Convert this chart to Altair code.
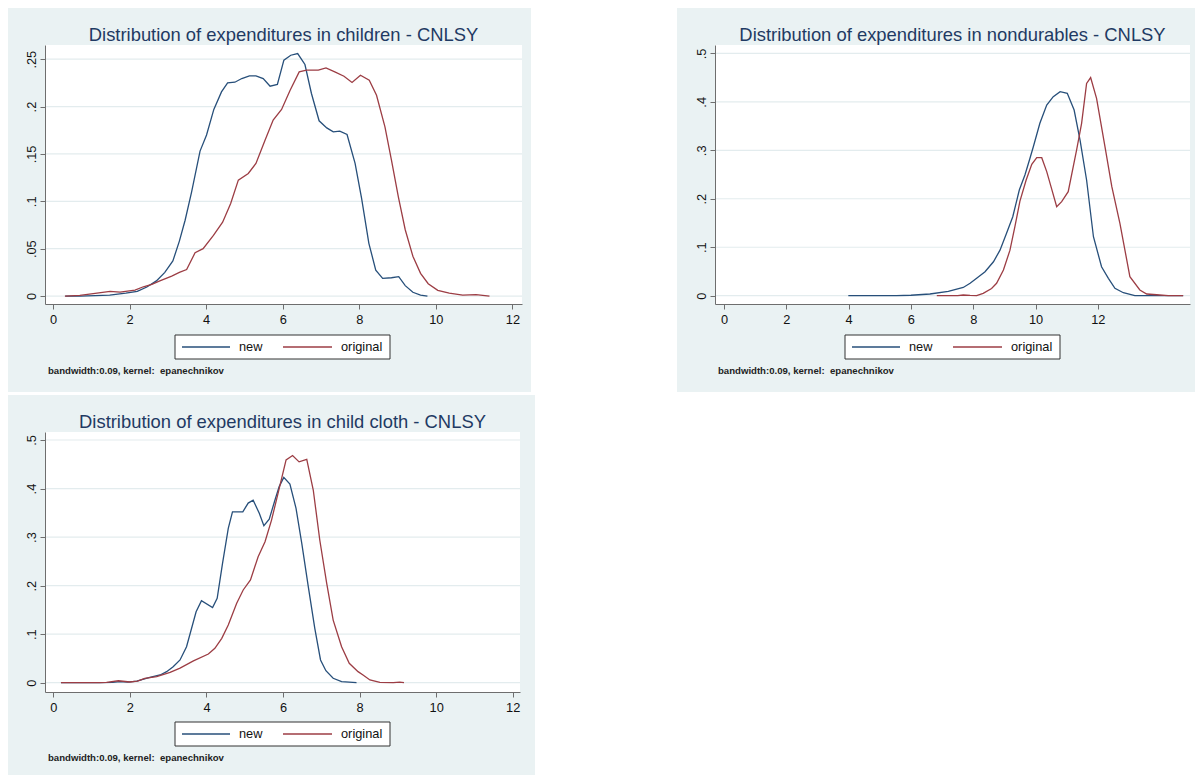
import altair as alt
import pandas as pd

# ---- Kernel density estimates (x = log expenditure, y = density) ----
# Children
children_new_x = [0.32, 0.70, 1.10, 1.48, 1.90, 2.20, 2.45, 2.70, 2.92, 3.13, 3.30, 3.45, 3.62, 3.84, 4.01,
                  4.20, 4.40, 4.56, 4.75, 4.93, 5.13, 5.30, 5.49, 5.67, 5.86, 6.03, 6.21, 6.39, 6.58, 6.75,
                  6.95, 7.15, 7.32, 7.49, 7.68, 7.89, 8.06, 8.25, 8.43, 8.61, 8.84, 9.03, 9.20, 9.40, 9.60, 9.78]
children_new_y = [0.0, 0.0, 0.0005, 0.001, 0.003, 0.005, 0.0095, 0.016, 0.025, 0.037, 0.058, 0.080, 0.110, 0.153, 0.170,
                  0.197, 0.2155, 0.225, 0.2257, 0.2296, 0.2324, 0.2324, 0.2296, 0.2215, 0.2233, 0.249, 0.2542, 0.256, 0.2444, 0.2138,
                  0.185, 0.1775, 0.1733, 0.174, 0.1705, 0.140, 0.103, 0.0556, 0.0274, 0.0187, 0.0193, 0.0204, 0.011, 0.004, 0.001, 0.0]
children_orig_x = [0.31, 0.70, 1.10, 1.49, 1.75, 2.14, 2.36, 2.58, 2.79, 3.10, 3.30, 3.49, 3.71, 3.92, 4.19,
                   4.43, 4.64, 4.84, 5.10, 5.30, 5.54, 5.75, 5.97, 6.19, 6.43, 6.62, 6.93, 7.13, 7.36, 7.60,
                   7.81, 8.03, 8.26, 8.45, 8.67, 8.84, 9.02, 9.20, 9.40, 9.60, 9.80, 10.05, 10.35, 10.70, 11.05, 11.40]
children_orig_y = [0.0, 0.0007, 0.0028, 0.005, 0.0042, 0.0063, 0.0098, 0.0123, 0.016, 0.021, 0.025, 0.028, 0.0457, 0.050, 0.064,
                   0.078, 0.0977, 0.1224, 0.1294, 0.140, 0.1646, 0.1857, 0.197, 0.217, 0.2366, 0.2384, 0.2384, 0.2408, 0.2366, 0.232,
                   0.2254, 0.2331, 0.2278, 0.212, 0.1786, 0.1435, 0.1047, 0.070, 0.042, 0.024, 0.013, 0.006, 0.003, 0.001, 0.0015, 0.0]

# Nondurables
nondur_new_x = [3.99, 4.50, 5.00, 5.54, 6.00, 6.61, 7.20, 7.68, 7.90, 8.11, 8.38, 8.65, 8.86, 9.07, 9.27, 9.48, 9.66, 9.82,
                9.93, 10.14, 10.36, 10.57, 10.79, 11.02, 11.24, 11.43, 11.64, 11.86, 12.12, 12.34, 12.55, 12.82, 13.19, 13.60, 14.20, 14.74]
nondur_new_y = [0.0, 0.0, 0.0, 0.0, 0.001, 0.0035, 0.009, 0.017, 0.0256, 0.036, 0.0495, 0.070, 0.094, 0.1287, 0.163, 0.218, 0.249, 0.283,
                0.3074, 0.3557, 0.3934, 0.4106, 0.4209, 0.4176, 0.383, 0.321, 0.2387, 0.1217, 0.0598, 0.0359, 0.0153, 0.0062, 0.0, 0.0, 0.0, 0.0]
nondur_orig_x = [6.83, 7.20, 7.50, 7.68, 7.90, 8.11, 8.32, 8.59, 8.75, 8.97, 9.18, 9.34, 9.50, 9.70, 9.88, 10.04, 10.20, 10.36,
                 10.52, 10.68, 10.84, 11.05, 11.32, 11.48, 11.64, 11.77, 11.96, 12.23, 12.45, 12.71, 13.03, 13.35, 13.57, 13.89, 14.26, 14.74]
nondur_orig_y = [0.0, 0.0, 0.0, 0.0015, 0.0005, 0.0, 0.005, 0.015, 0.0256, 0.053, 0.094, 0.143, 0.195, 0.2387, 0.271, 0.2847, 0.2847, 0.256,
                 0.22, 0.1836, 0.194, 0.2146, 0.3006, 0.3557, 0.438, 0.450, 0.407, 0.3074, 0.2249, 0.1494, 0.0392, 0.0118, 0.0035, 0.002, 0.0, 0.0]

# Child cloth
cloth_new_x = [0.20, 0.80, 1.20, 1.55, 1.74, 1.95, 2.18, 2.52, 2.79, 2.96, 3.13, 3.31, 3.48, 3.73, 3.87, 4.16, 4.28, 4.42, 4.57, 4.68,
               4.95, 5.09, 5.22, 5.38, 5.50, 5.64, 5.79, 5.90, 6.02, 6.18, 6.34, 6.49, 6.66, 6.83, 6.98, 7.12, 7.31, 7.53, 7.92]
cloth_new_y = [0.0, 0.0, 0.0, 0.0005, 0.002, 0.001, 0.003, 0.011, 0.0159, 0.0227, 0.033, 0.0468, 0.074, 0.146, 0.169, 0.155, 0.174, 0.246, 0.318, 0.352,
               0.352, 0.370, 0.376, 0.349, 0.3235, 0.3367, 0.3765, 0.404, 0.423, 0.409, 0.359, 0.287, 0.198, 0.112, 0.0468, 0.0247, 0.009, 0.002, 0.0]
cloth_orig_x = [0.20, 0.80, 1.20, 1.39, 1.70, 2.00, 2.20, 2.39, 2.70, 3.05, 3.31, 3.66, 4.05, 4.22, 4.40, 4.57, 4.79, 4.96, 5.15, 5.35,
                5.53, 5.70, 5.87, 6.08, 6.25, 6.42, 6.62, 6.79, 6.96, 7.14, 7.31, 7.53, 7.73, 7.96, 8.09, 8.27, 8.53, 8.88, 9.05, 9.16]
cloth_orig_y = [0.0, 0.0, 0.0, 0.0005, 0.004, 0.0014, 0.003, 0.009, 0.0124, 0.0214, 0.030, 0.045, 0.059, 0.0708, 0.0914, 0.119, 0.1636, 0.191, 0.2116, 0.2596,
                0.2905, 0.335, 0.390, 0.459, 0.468, 0.455, 0.460, 0.397, 0.294, 0.205, 0.129, 0.074, 0.040, 0.0227, 0.0159, 0.0056, 0.0008, 0.0, 0.001, 0.0]

series_names = ["new", "original"]
x_ticks = [0, 2, 4, 6, 8, 10, 12]
y_ticks_children = [0, 0.05, 0.1, 0.15, 0.2, 0.25]
y_ticks_half = [0, 0.1, 0.2, 0.3, 0.4, 0.5]
note_text = "bandwidth:0.09, kernel:\u00a0 epanechnikov"

# ---- Styling ----
NAVY = "#274F7A"
MAROON = "#9C3D44"
SERIES_COLORS = [NAVY, MAROON]
PANEL_BG = "#EAF2F3"
GRID = "#E3ECEE"
TITLE_COLOR = "#1F3A63"
AXIS_COLOR = "#6E6E6E"
FONT = "Liberation Sans"
ONE = pd.DataFrame({"k": [0]})


def box(x1, x2, y1, y2, **style):
    return alt.Chart(ONE).mark_rect(**style).encode(
        x=alt.value(x1), x2=alt.value(x2), y=alt.value(y1), y2=alt.value(y2))


def label(text, x, y, **style):
    return alt.Chart(pd.DataFrame({"t": [text]})).mark_text(font=FONT, **style).encode(
        x=alt.value(x), y=alt.value(y), text="t:N")


def legend_layers():
    # boxed key below the plot: line sample + label for each series
    layers = [box(130, 345, 290, 314, fill="white", stroke="#333333", strokeWidth=1)]
    starts = [(137, 185, 194), (238, 287, 296)]
    for name, color, (a, b, t) in zip(series_names, SERIES_COLORS, starts):
        layers.append(alt.Chart(ONE).mark_rule(color=color, strokeWidth=1.3).encode(
            x=alt.value(a), x2=alt.value(b), y=alt.value(302)))
        layers.append(label(name, t, 302, fontSize=12.8, color="#111111", align="left", baseline="middle"))
    return layers


def density_panel(title, new_x, new_y, orig_x, orig_y, x_dom, y_dom, y_ticks, width, height, frame):
    df = pd.DataFrame({
        "x": new_x + orig_x,
        "y": new_y + orig_y,
        "series": [series_names[0]] * len(new_x) + [series_names[1]] * len(orig_x),
    })
    x_scale = alt.Scale(domain=x_dom, nice=False, zero=False)
    y_scale = alt.Scale(domain=y_dom, nice=False, zero=False)
    y_axis = alt.Axis(values=y_ticks, title=None, zindex=1,
                      labelExpr="datum.value == 0 ? '0' : replace(format(datum.value, '.2~f'), '0.', '.')",
                      labelAngle=270, labelAlign="center", labelBaseline="alphabetic", labelPadding=5)

    # graph region (light bluish) and white plot region
    region = box(frame[0], frame[1], frame[2], frame[3], color=PANEL_BG)
    plot_bg = box(0, width, 0, height, color="white")

    grid = alt.Chart(pd.DataFrame({"y": y_ticks})).mark_rule(color=GRID, strokeWidth=1.2).encode(
        y=alt.Y("y:Q", scale=y_scale, axis=y_axis),
        x=alt.value(0), x2=alt.value(width))

    lines = alt.Chart(df).mark_line(strokeWidth=1.3).encode(
        x=alt.X("x:Q", scale=x_scale,
                axis=alt.Axis(values=x_ticks, title=None, labelPadding=4, format="d", zindex=1)),
        y=alt.Y("y:Q", scale=y_scale, axis=y_axis),
        color=alt.Color("series:N", scale=alt.Scale(domain=series_names, range=SERIES_COLORS), legend=None),
    )

    title_mark = label(title, width / 2, -4.3, fontSize=18.4, color=TITLE_COLOR,
                       align="center", baseline="alphabetic")
    note = label(note_text, 3, 326, fontSize=9.6, fontWeight="bold", color="#222222",
                 align="left", baseline="middle")

    return alt.layer(region, plot_bg, grid, lines, title_mark, note, *legend_layers()).properties(
        width=width, height=height)


children = density_panel("Distribution of expenditures in children - CNLSY",
                         children_new_x, children_new_y, children_orig_x, children_orig_y,
                         [-0.21, 12.25], [-0.0084, 0.265], y_ticks_children, 477, 259,
                         (-37, 486, -37, 347))
nondurables = density_panel("Distribution of expenditures in nondurables - CNLSY",
                            nondur_new_x, nondur_new_y, nondur_orig_x, nondur_orig_y,
                            [-0.29, 14.96], [-0.0171, 0.5172], y_ticks_half, 475, 259,
                            (-38, 480, -37, 347))
cloth = density_panel("Distribution of expenditures in child cloth - CNLSY",
                      cloth_new_x, cloth_new_y, cloth_orig_x, cloth_orig_y,
                      [-0.217, 12.19], [-0.0192, 0.5165], y_ticks_half, 475, 260,
                      (-37, 490, -37, 343))

top_row = alt.hconcat(children, nondurables, spacing=146).resolve_scale(
    x="independent", y="independent", color="independent")

chart = alt.vconcat(top_row, cloth, spacing=3).resolve_scale(
    x="independent", y="independent", color="independent").properties(
    padding={"left": 8, "top": 8, "right": 0, "bottom": 0},
    background="white",
).configure_view(strokeWidth=0).configure_axis(
    grid=False, domainColor=AXIS_COLOR, tickColor=AXIS_COLOR, domainWidth=1, tickWidth=1,
    tickSize=5, labelFont=FONT, labelFontSize=12.8, labelColor="#111111",
)

chart.save("out.html", embed_options={"renderer": "svg", "actions": False})
